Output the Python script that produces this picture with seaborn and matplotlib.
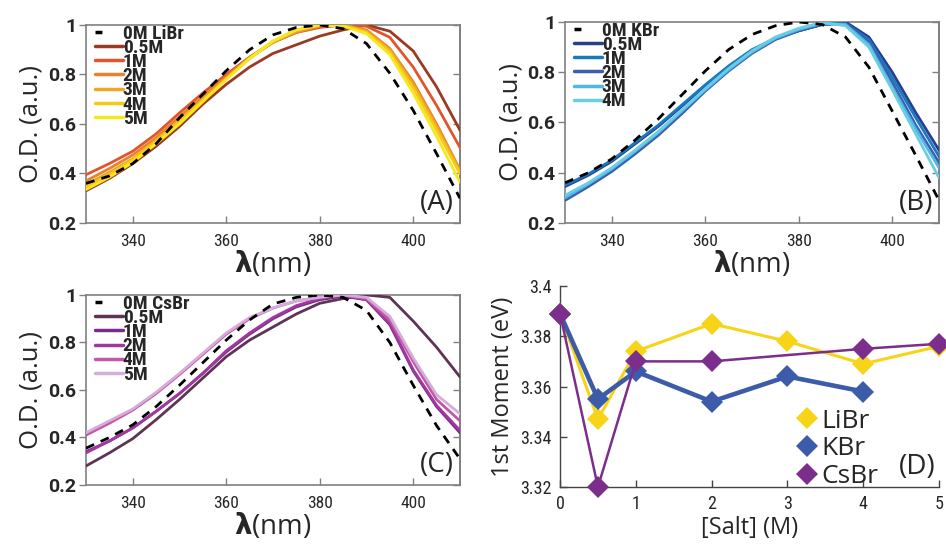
import matplotlib
matplotlib.use("Agg")
import matplotlib.pyplot as plt
import seaborn as sns
import pandas as pd

# ---------------- data ----------------
wavelength_nm = [330, 335, 340, 345, 350, 355, 360, 365, 370, 375, 380, 385, 390, 395, 400, 405, 410]

# Panel A : LiBr
liBr_labels = ["0M LiBr", "0.5M", "1M", "2M", "3M", "4M", "5M"]
liBr_colors = ["#000000", "#9B3A22", "#E2552A", "#E7832E", "#EFA826", "#F7CB14", "#F6E81E"]
liBr_0M  = [0.36, 0.39, 0.44, 0.52, 0.625, 0.72, 0.815, 0.90, 0.96, 0.99, 1.0, 0.985, 0.925, 0.805, 0.655, 0.48, 0.30]
liBr_05M = [0.33, 0.38, 0.44, 0.51, 0.59, 0.68, 0.76, 0.83, 0.885, 0.92, 0.955, 0.98, 1.0, 0.975, 0.895, 0.75, 0.575]
liBr_1M  = [0.395, 0.44, 0.49, 0.56, 0.645, 0.725, 0.80, 0.87, 0.93, 0.97, 0.99, 1.0, 0.995, 0.95, 0.83, 0.675, 0.505]
liBr_2M  = [0.37, 0.42, 0.475, 0.545, 0.63, 0.71, 0.79, 0.87, 0.93, 0.97, 0.995, 1.0, 0.98, 0.905, 0.77, 0.60, 0.415]
liBr_3M  = [0.355, 0.405, 0.46, 0.535, 0.615, 0.70, 0.785, 0.865, 0.93, 0.975, 0.998, 1.0, 0.975, 0.90, 0.76, 0.59, 0.41]
liBr_4M  = [0.345, 0.395, 0.455, 0.53, 0.61, 0.695, 0.78, 0.865, 0.935, 0.98, 1.0, 0.998, 0.97, 0.89, 0.745, 0.575, 0.40]
liBr_5M  = [0.335, 0.385, 0.445, 0.52, 0.60, 0.69, 0.78, 0.865, 0.935, 0.98, 1.0, 0.995, 0.965, 0.88, 0.725, 0.55, 0.365]

# Panel B : KBr
kBr_labels = ["0M KBr", "0.5M", "1M", "2M", "3M", "4M"]
kBr_colors = ["#000000", "#253E90", "#1878C0", "#3D5DAE", "#4CB7E8", "#6ACDE0"]
kBr_0M  = [0.36, 0.40, 0.455, 0.53, 0.615, 0.71, 0.805, 0.89, 0.95, 0.985, 1.0, 0.99, 0.94, 0.82, 0.645, 0.47, 0.29]
kBr_05M = [0.345, 0.39, 0.445, 0.515, 0.585, 0.665, 0.745, 0.82, 0.885, 0.935, 0.965, 0.99, 1.0, 0.94, 0.80, 0.64, 0.49]
kBr_1M  = [0.35, 0.395, 0.45, 0.52, 0.59, 0.67, 0.75, 0.825, 0.89, 0.935, 0.965, 0.99, 0.995, 0.93, 0.78, 0.62, 0.465]
kBr_2M  = [0.29, 0.345, 0.405, 0.475, 0.55, 0.635, 0.725, 0.805, 0.875, 0.93, 0.965, 0.99, 0.995, 0.92, 0.76, 0.59, 0.44]
kBr_3M  = [0.30, 0.355, 0.415, 0.485, 0.56, 0.645, 0.73, 0.81, 0.88, 0.935, 0.97, 0.995, 0.99, 0.91, 0.74, 0.575, 0.42]
kBr_4M  = [0.31, 0.36, 0.42, 0.49, 0.565, 0.65, 0.735, 0.815, 0.885, 0.94, 0.975, 0.998, 0.985, 0.90, 0.73, 0.555, 0.38]

# Panel C : CsBr
csBr_labels = ["0M CsBr", "0.5M", "1M", "2M", "4M", "5M"]
csBr_colors = ["#000000", "#5E3454", "#7A2A8E", "#A2389F", "#C458A8", "#D6ADDA"]
csBr_0M  = [0.355, 0.40, 0.453, 0.53, 0.62, 0.715, 0.81, 0.895, 0.962, 0.99, 1.0, 0.99, 0.935, 0.80, 0.62, 0.45, 0.31]
csBr_05M = [0.28, 0.335, 0.395, 0.475, 0.56, 0.65, 0.74, 0.81, 0.865, 0.92, 0.965, 0.985, 1.0, 0.99, 0.89, 0.78, 0.655]
csBr_1M  = [0.34, 0.385, 0.44, 0.51, 0.585, 0.67, 0.76, 0.835, 0.90, 0.95, 0.98, 0.995, 0.98, 0.875, 0.68, 0.53, 0.42]
csBr_2M  = [0.335, 0.385, 0.44, 0.51, 0.585, 0.67, 0.765, 0.84, 0.905, 0.955, 0.985, 1.0, 0.98, 0.88, 0.685, 0.535, 0.43]
csBr_4M  = [0.41, 0.46, 0.515, 0.585, 0.665, 0.75, 0.835, 0.90, 0.945, 0.975, 0.99, 1.0, 0.985, 0.895, 0.72, 0.56, 0.47]
csBr_5M  = [0.42, 0.47, 0.52, 0.59, 0.67, 0.755, 0.84, 0.905, 0.945, 0.975, 0.99, 1.0, 0.99, 0.91, 0.735, 0.58, 0.50]

# Panel D : first moment
salt_LiBr = [0, 0.5, 1, 2, 3, 4, 5]
moment_LiBr = [3.389, 3.347, 3.374, 3.385, 3.378, 3.369, 3.376]
salt_KBr = [0, 0.5, 1, 2, 3, 4]
moment_KBr = [3.389, 3.355, 3.366, 3.354, 3.364, 3.358]
salt_CsBr = [0, 0.5, 1, 2, 4, 5]
moment_CsBr = [3.389, 3.320, 3.370, 3.370, 3.375, 3.377]
moment_colors = {"LiBr": "#F7D417", "KBr": "#3C5BA8", "CsBr": "#7C2E8C"}

# ---------------- style ----------------
sns.set_theme(style="white")
plt.rcParams["font.family"] = ["Open Sans", "DejaVu Sans"]
plt.rcParams["mathtext.fontset"] = "dejavusans"

NARROW = ["Roboto Condensed", "Roboto", "DejaVu Sans"]
TICKB = ["Roboto", "DejaVu Sans"]
LABEL = ["Open Sans", "DejaVu Sans"]
GREY = "#808080"

fig = plt.figure(figsize=(9.46, 5.48), dpi=100)
axA = fig.add_axes([0.0909, 0.5931, 0.3953, 0.3613])
axB = fig.add_axes([0.5973, 0.5931, 0.3953, 0.3668])
axC = fig.add_axes([0.0909, 0.1150, 0.3953, 0.3467])
axD = fig.add_axes([0.5920, 0.1113, 0.4006, 0.3668])


def spectra_panel(ax, series, labels, colors, tag):
    for i, (vals, lab, col) in enumerate(zip(series, labels, colors)):
        if i == 0:
            sns.lineplot(x=wavelength_nm, y=vals, ax=ax, color=col, lw=2.0,
                         linestyle=(0, (3.2, 2.6)), label=lab, zorder=5)
        else:
            sns.lineplot(x=wavelength_nm, y=vals, ax=ax, color=col, lw=2.0,
                         label=lab, zorder=3)
    ax.set_xlim(330, 410)
    ax.set_ylim(0.2, 1.0)
    ax.set_xticks([340, 360, 380, 400])
    ax.set_yticks([0.2, 0.4, 0.6, 0.8, 1.0])
    ax.set_yticklabels(["0.2", "0.4", "0.6", "0.8", "1"])
    for lbl in ax.get_yticklabels():
        lbl.set_family(TICKB)
        lbl.set_fontweight("bold")
        lbl.set_fontsize(14)
    for lbl in ax.get_xticklabels():
        lbl.set_family(NARROW)
        lbl.set_fontsize(12.5)
    ax.tick_params(axis="x", direction="in", length=5, width=1, color=GREY,
                   bottom=True, top=False, pad=8)
    ax.tick_params(axis="y", direction="out", length=5, width=1, color=GREY,
                   left=True, right=False, pad=2)
    sec = ax.secondary_yaxis("right")
    sec.set_yticks([0.2, 0.4, 0.6, 0.8, 1.0])
    sec.tick_params(direction="in", length=5, width=1, color=GREY, labelright=False)
    sec.spines["right"].set_color(GREY)
    for s in ax.spines.values():
        s.set_color(GREY)
        s.set_linewidth(1.2)
    ax.set_xlabel(r"$\boldsymbol{\lambda}$(nm)", fontsize=20, family=LABEL, labelpad=0)
    ax.set_ylabel("O.D. (a.u.)", fontsize=18.5, family=LABEL, labelpad=3)
    ax.text(0.985, 0.03, tag, transform=ax.transAxes, ha="right", va="bottom",
            fontsize=20, family=LABEL)
    leg = ax.legend(loc="upper left", bbox_to_anchor=(0.02, 1.01), frameon=False,
                    prop={"family": NARROW, "weight": "bold", "size": 14},
                    handlelength=1.4, handletextpad=0.0, labelspacing=-0.2,
                    borderpad=0.1, borderaxespad=0.0)
    lines = leg.get_lines()
    for h in lines:
        h.set_linewidth(2.5)
    lines[0].set_linestyle((0, (2.0, 20)))


spectra_panel(axA, [liBr_0M, liBr_05M, liBr_1M, liBr_2M, liBr_3M, liBr_4M, liBr_5M],
              liBr_labels, liBr_colors, "(A)")
spectra_panel(axB, [kBr_0M, kBr_05M, kBr_1M, kBr_2M, kBr_3M, kBr_4M],
              kBr_labels, kBr_colors, "(B)")
spectra_panel(axC, [csBr_0M, csBr_05M, csBr_1M, csBr_2M, csBr_4M, csBr_5M],
              csBr_labels, csBr_colors, "(C)")

# ---------------- panel D ----------------
for name, xs, ys, lw in [("LiBr", salt_LiBr, moment_LiBr, 2.2),
                         ("KBr", salt_KBr, moment_KBr, 3.3),
                         ("CsBr", salt_CsBr, moment_CsBr, 1.8)]:
    sns.lineplot(x=xs, y=ys, ax=axD, color=moment_colors[name], lw=lw,
                 marker="D", markersize=11, markeredgewidth=0,
                 label=name, clip_on=False, zorder=3)
axD.set_xlim(0, 5)
axD.set_ylim(3.32, 3.40)
axD.set_xticks([0, 1, 2, 3, 4, 5])
axD.set_yticks([3.32, 3.34, 3.36, 3.38, 3.40])
axD.set_yticklabels(["3.32", "3.34", "3.36", "3.38", "3.4"])
for lbl in axD.get_xticklabels() + axD.get_yticklabels():
    lbl.set_family(NARROW)
    lbl.set_fontsize(13)
axD.tick_params(direction="in", length=5, width=1, color="#444444",
                bottom=True, left=True, pad=6)
axD.spines["top"].set_visible(False)
axD.spines["right"].set_visible(False)
for s in ("left", "bottom"):
    axD.spines[s].set_color("#444444")
    axD.spines[s].set_linewidth(1.0)
axD.set_xlabel("[Salt] (M)", fontsize=17, family=LABEL, labelpad=2)
axD.set_ylabel("1st Moment (eV)", fontsize=17, family=LABEL, labelpad=4)
axD.text(0.99, 0.03, "(D)", transform=axD.transAxes, ha="right", va="bottom",
         fontsize=20, family=LABEL)
legD = axD.legend(loc="upper left", bbox_to_anchor=(0.62, 0.39), frameon=False,
                  prop={"family": LABEL, "size": 19}, handlelength=0.9,
                  handletextpad=0.1, labelspacing=0.1, borderpad=0.0,
                  borderaxespad=0.0)
for h in legD.get_lines():
    h.set_linestyle("none")

fig.savefig("out.png", dpi=100)
